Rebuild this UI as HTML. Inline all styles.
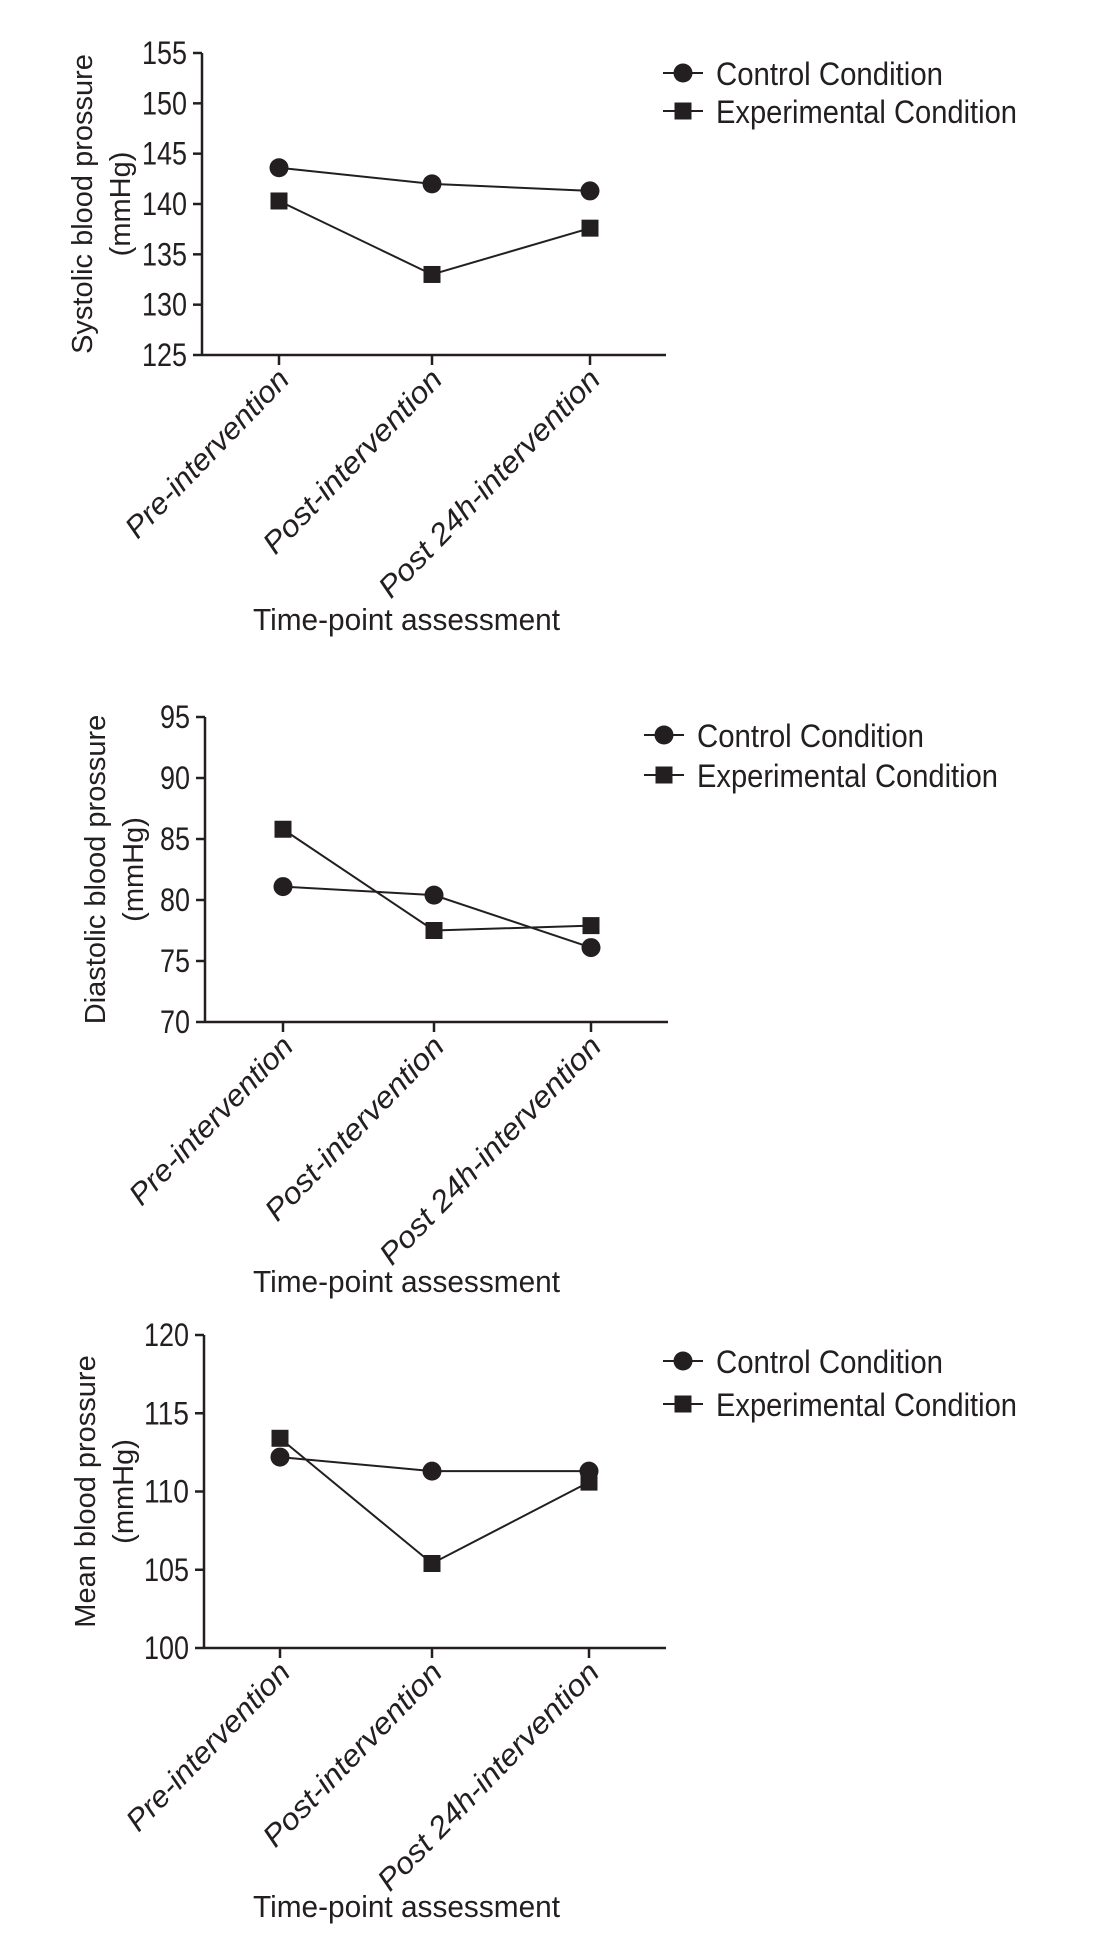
<!DOCTYPE html>
<html><head><meta charset="utf-8"><style>
html,body{margin:0;padding:0;background:#fff;}
svg{display:block;}
text{fill:#231f20;}
</style></head>
<body>
<svg id="chart" width="1104" height="1933" viewBox="0 0 1104 1933" xmlns="http://www.w3.org/2000/svg"></svg>
<script>
const categories = ["Pre-intervention", "Post-intervention", "Post 24h-intervention"];
const systolicControl = [143.6, 142.0, 141.3];
const systolicExperimental = [140.3, 133.0, 137.6];
const diastolicControl = [81.1, 80.4, 76.1];
const diastolicExperimental = [85.8, 77.5, 77.9];
const meanControl = [112.2, 111.3, 111.3];
const meanExperimental = [113.4, 105.4, 110.6];
const systolicTicks = [125, 130, 135, 140, 145, 150, 155];
const diastolicTicks = [70, 75, 80, 85, 90, 95];
const meanTicks = [100, 105, 110, 115, 120];
const seriesNames = ["Control Condition", "Experimental Condition"];
const xTitle = "Time-point assessment";

const NS = "http://www.w3.org/2000/svg";
const svg = document.getElementById("chart");
const FONT = '"Liberation Sans Narrow","Liberation Sans",sans-serif';
function mk(tag, attrs, parent){
  const e = document.createElementNS(NS, tag);
  for (const k in attrs) e.setAttribute(k, attrs[k]);
  (parent||svg).appendChild(e);
  return e;
}
const labelLens = [221, 243, 304];

function panel(cfg){
  const g = mk("g", {});
  
  
  const ticks = cfg.ticks, vmin = ticks[0], vmax = ticks[ticks.length-1];
  const y = v => cfg.bottom - (v - vmin) / (vmax - vmin) * (cfg.bottom - cfg.top);
  const x = i => cfg.cats[i];
  const ya = mk("line", {x1:cfg.axisX, y1:cfg.top, x2:cfg.axisX, y2:cfg.bottom, stroke:"#231f20","stroke-width":2.5}, g);
  
  
  const xa = mk("line", {x1:cfg.axisX, y1:cfg.bottom, x2:cfg.right, y2:cfg.bottom, stroke:"#231f20","stroke-width":2.5}, g);
  
  
  ticks.forEach(t => {
    mk("line", {x1:cfg.axisX-9, y1:y(t), x2:cfg.axisX, y2:y(t), stroke:"#231f20","stroke-width":2.5}, g);
    const s = String(t);
    const tl = mk("text", {x:cfg.axisX-15, y:y(t)+11, "text-anchor":"end","font-family":FONT,"font-size":32,
      textLength:s.length*15, lengthAdjust:"spacingAndGlyphs"}, g);
    tl.textContent = s;
    
    
  });
  categories.forEach((c, i) => {
    mk("line", {x1:x(i), y1:cfg.bottom, x2:x(i), y2:cfg.bottom+10, stroke:"#231f20","stroke-width":2.5}, g);
    const tl = mk("text", {x:0, y:0, "text-anchor":"end","font-family":FONT,"font-size":30,"font-style":"italic",
      textLength:labelLens[i], lengthAdjust:"spacingAndGlyphs",
      transform:`translate(${x(i)+12},${cfg.bottom+26}) rotate(-46)`}, g);
    tl.textContent = c;
    
    
  });
  const yt = mk("text", {x:0, y:0, "text-anchor":"middle","font-family":'"Liberation Sans",sans-serif',"font-size":29,
    transform:`translate(${cfg.ylx},${(cfg.top+cfg.bottom)/2}) rotate(-90)`}, g);
  
  
  const t1 = mk("tspan", {x:0, dy:0}, yt); t1.textContent = cfg.ytitle;
  const t2 = mk("tspan", {x:0, dy:38}, yt); t2.textContent = "(mmHg)";
  const xt = mk("text", {x:253, y:cfg.xtY, "font-family":FONT,"font-size":31,textLength:307,lengthAdjust:"spacingAndGlyphs"}, g);
  xt.textContent = xTitle;
  
  
  [cfg.control, cfg.exp].forEach((vals, s) => {
    const pts = vals.map((v, i) => `${x(i)},${y(v)}`).join(" ");
    const pl = mk("polyline", {points:pts, fill:"none", stroke:"#231f20","stroke-width":2}, g);
    
    
    vals.forEach((v, i) => {
      let m;
      if (s === 0) m = mk("circle", {cx:x(i), cy:y(v), r:9.5, fill:"#231f20"}, g);
      else m = mk("rect", {x:x(i)-8.5, y:y(v)-8.5, width:17, height:17, fill:"#231f20"}, g);
      
      
    });
  });
  seriesNames.forEach((n, s) => {
    const ly = cfg.legY[s];
    const lg = mk("g", {}, g);
    
    
    mk("line", {x1:cfg.legX-20, y1:ly, x2:cfg.legX+20, y2:ly, stroke:"#231f20","stroke-width":2}, lg);
    if (s === 0) mk("circle", {cx:cfg.legX, cy:ly, r:9.5, fill:"#231f20"}, lg);
    else mk("rect", {x:cfg.legX-8.5, y:ly-8.5, width:17, height:17, fill:"#231f20"}, lg);
    const lt = mk("text", {x:cfg.legX+33, y:ly+12, "font-family":FONT,"font-size":32,
      textLength:s===0?227:301, lengthAdjust:"spacingAndGlyphs"}, lg);
    lt.textContent = n;
  });
}

panel({name:"systolic-panel", ticks:systolicTicks, top:53, bottom:355, axisX:202, right:666, cats:[279,432,590],
  control:systolicControl, exp:systolicExperimental, ytitle:"Systolic blood prossure", ylx:92, xtY:630,
  legX:683, legY:[73,111]});
panel({name:"diastolic-panel", ticks:diastolicTicks, top:717, bottom:1022, axisX:205, right:668, cats:[283,434,591],
  control:diastolicControl, exp:diastolicExperimental, ytitle:"Diastolic blood prossure", ylx:105, xtY:1292,
  legX:664, legY:[735,775]});
panel({name:"mean-panel", ticks:meanTicks, top:1335, bottom:1648, axisX:204, right:666, cats:[280,432,589],
  control:meanControl, exp:meanExperimental, ytitle:"Mean blood prossure", ylx:95, xtY:1917,
  legX:683, legY:[1361,1404]});
</script>
</body></html>
